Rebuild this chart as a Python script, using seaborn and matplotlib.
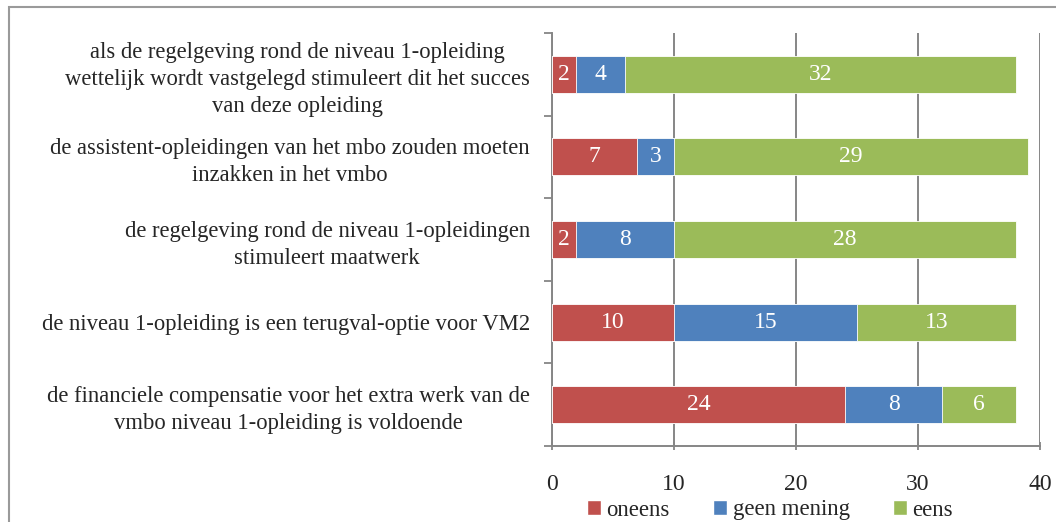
import matplotlib
matplotlib.use("Agg")
import matplotlib.pyplot as plt
from matplotlib.patches import Rectangle, Patch
import seaborn as sns
import numpy as np
import pandas as pd

categories = [
    "als de regelgeving rond de niveau 1-opleiding\nwettelijk wordt vastgelegd stimuleert dit het succes\nvan deze opleiding",
    "de assistent-opleidingen van het mbo zouden moeten\ninzakken in het vmbo",
    "de regelgeving rond de niveau 1-opleidingen\nstimuleert maatwerk",
    "de niveau 1-opleiding is een terugval-optie voor VM2",
    "de financiele compensatie voor het extra werk van de\nvmbo niveau 1-opleiding is voldoende",
]
oneens = [2, 7, 2, 10, 24]
geen_mening = [4, 3, 8, 15, 8]
eens = [32, 29, 28, 13, 6]
series_names = ["oneens", "geen mening", "eens"]
colors = ["#C0504D", "#4F81BD", "#9BBB59"]
xticks = [0, 10, 20, 30, 40]

sns.set_style("white")
plt.rcParams["font.family"] = ["Liberation Serif", "DejaVu Serif"]

fig = plt.figure(figsize=(10.56, 5.22), dpi=100)
ax = fig.add_axes([552/1056, 1-446/522, (1040-552)/1056, (446-33)/522])

df = pd.DataFrame({"cat": categories, "oneens": oneens,
                   "geen mening": geen_mening, "eens": eens})
vals = df[series_names].to_numpy(dtype=float)
cum = np.cumsum(vals, axis=1)

# draw cumulative totals from largest to smallest so stacks appear
for j in reversed(range(3)):
    tmp = pd.DataFrame({"cat": categories, "v": cum[:, j]})
    sns.barplot(data=tmp, x="v", y="cat", orient="h", color=colors[j],
                width=0.45, saturation=1, ax=ax, edgecolor="white",
                linewidth=0.6, zorder=3)

for i in range(len(categories)):
    for j in range(3):
        left = cum[i, j] - vals[i, j]
        ax.text(left + vals[i, j] / 2, i, f"{int(vals[i, j])}",
                ha="center", va="center", color="white", fontsize=17, zorder=5)

ax.set_xlim(0, 40)
ax.set_ylim(4.5, -0.5)
ax.set_xticks(xticks)
ax.set_xticklabels([str(t) for t in xticks], fontsize=17)
ax.set_xlabel("")
ax.set_ylabel("")
ax.set_yticks(range(len(categories)))
ax.set_yticklabels(categories, fontsize=16.3, multialignment="center", linespacing=1.38)
ax.set_yticks(np.arange(-0.5, len(categories), 1), minor=True)
ax.tick_params(axis="y", which="major", length=0, pad=16)
ax.tick_params(axis="y", which="minor", length=6, color="#868686", width=1.3, direction="out", left=True)
ax.tick_params(axis="x", which="major", length=6, color="#868686", width=1.3, direction="inout", pad=17, bottom=True)

ax.grid(axis="x", color="#868686", linewidth=1.4, zorder=0)
ax.set_axisbelow(True)
for s in ["top", "right"]:
    ax.spines[s].set_visible(False)
for s in ["left", "bottom"]:
    ax.spines[s].set_color("#868686")
    ax.spines[s].set_linewidth(1.4)

handles = [Patch(facecolor=c, label=n) for c, n in zip(colors, series_names)]
fig.legend(handles=handles, loc="center", bbox_to_anchor=(770/1056, 1-510/522),
           ncol=3, frameon=False, fontsize=16.4, handlelength=0.6, handleheight=0.6,
           handletextpad=0.25, columnspacing=1.9, borderpad=0)

fig.patches.append(Rectangle((9/1056, -0.1), 1.2, 1 + 0.1 - 6.5/522,
                             transform=fig.transFigure, fill=False,
                             edgecolor="#9a9a9a", linewidth=1.5))

fig.savefig("out.png", dpi=100)
